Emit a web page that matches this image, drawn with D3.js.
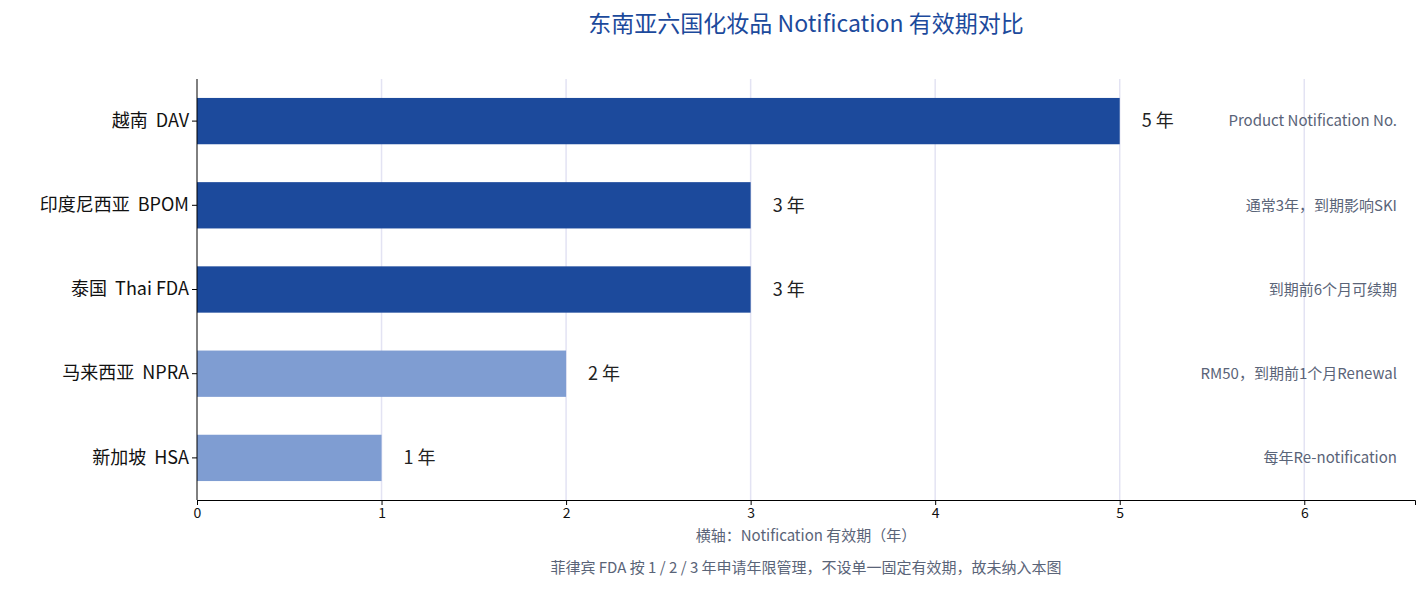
<!DOCTYPE html>
<html><head><meta charset="utf-8">
<script src="https://cdn.jsdelivr.net/npm/d3@7"></script>
<style>body{margin:0;background:#fff;font-family:"Noto Sans","Noto Sans CJK SC",sans-serif;}</style>
</head><body><svg id="c" width="1428" height="596"></svg>
<script>
const categories=["越南  DAV","印度尼西亚  BPOM","泰国  Thai FDA","马来西亚  NPRA","新加坡  HSA"];
const years=[5,3,3,2,1];
const valueLabels=["5 年","3 年","3 年","2 年","1 年"];
const notes=["Product Notification No.","通常3年，到期影响SKI","到期前6个月可续期","RM50，到期前1个月Renewal","每年Re-notification"];
const colorGroup=["dark","dark","dark","light","light"];
const ticks=[0,1,2,3,4,5,6];
const colors={dark:"#1c4a9c",light:"#7f9dd2"};
const font='"Noto Sans CJK SC","Noto Sans",sans-serif';
const svg=d3.select("#c");
const m={l:197,r:1415,t:79,b:500};
const x=d3.scaleLinear().domain([0,6.6]).range([m.l,m.r]);
const y=d3.scaleBand().domain(categories).range([m.t,m.b]).paddingInner(0.45).paddingOuter(0.225);
svg.append("g").selectAll("line").data(ticks.slice(1)).join("line")
 .attr("x1",d=>x(d)).attr("x2",d=>x(d)).attr("y1",m.t).attr("y2",m.b).attr("stroke","#e3e3f3").attr("stroke-width",1.5);
svg.append("g").selectAll("rect").data(categories).join("rect")
 .attr("x",x(0)).attr("y",d=>y(d)).attr("height",y.bandwidth())
 .attr("width",(d,i)=>x(years[i])-x(0)).attr("fill",(d,i)=>colors[colorGroup[i]]);
svg.append("g").selectAll("text").data(categories).join("text")
 .attr("x",(d,i)=>x(years[i])+22).attr("y",d=>y(d)+y.bandwidth()/2).attr("dy","0.35em")
 .attr("font-size",18).attr("font-family",font).attr("fill","#222").text((d,i)=>valueLabels[i]);
svg.append("g").selectAll("text").data(categories).join("text")
 .attr("x",1397).attr("y",d=>y(d)+y.bandwidth()/2).attr("dy","0.35em").attr("text-anchor","end")
 .attr("font-size",15).attr("font-family",font).attr("fill","#5a6478").text((d,i)=>notes[i]);
const xa=svg.append("g").attr("transform",`translate(0,${m.b})`).call(d3.axisBottom(x).tickValues(ticks).tickFormat(d3.format("d")).tickSize(5));
xa.selectAll("text").attr("font-size",14).attr("font-family",font).attr("fill","#111");
xa.select(".domain").attr("stroke","#000");
const ya=svg.append("g").attr("transform",`translate(${m.l},0)`).call(d3.axisLeft(y).tickSize(5));
ya.selectAll("text").attr("font-size",18).attr("font-family",font).attr("fill","#111").style("white-space","pre").attr("xml:space","preserve");
ya.select(".domain").attr("stroke","#000").attr("d",`M0,${m.t}V${m.b}`);
svg.append("text").attr("x",806).attr("y",32).attr("text-anchor","middle").attr("font-size",23).attr("font-family",font).attr("fill","#1c4a9c").text("东南亚六国化妆品 Notification 有效期对比");
svg.append("text").attr("x",806).attr("y",541).attr("text-anchor","middle").attr("font-size",15).attr("font-family",font).attr("fill","#5a6478").text("横轴：Notification 有效期（年）");
svg.append("text").attr("x",806).attr("y",573).attr("text-anchor","middle").attr("font-size",15).attr("font-family",font).attr("fill","#5a6478").text("菲律宾 FDA 按 1 / 2 / 3 年申请年限管理，不设单一固定有效期，故未纳入本图");
</script></body></html>
